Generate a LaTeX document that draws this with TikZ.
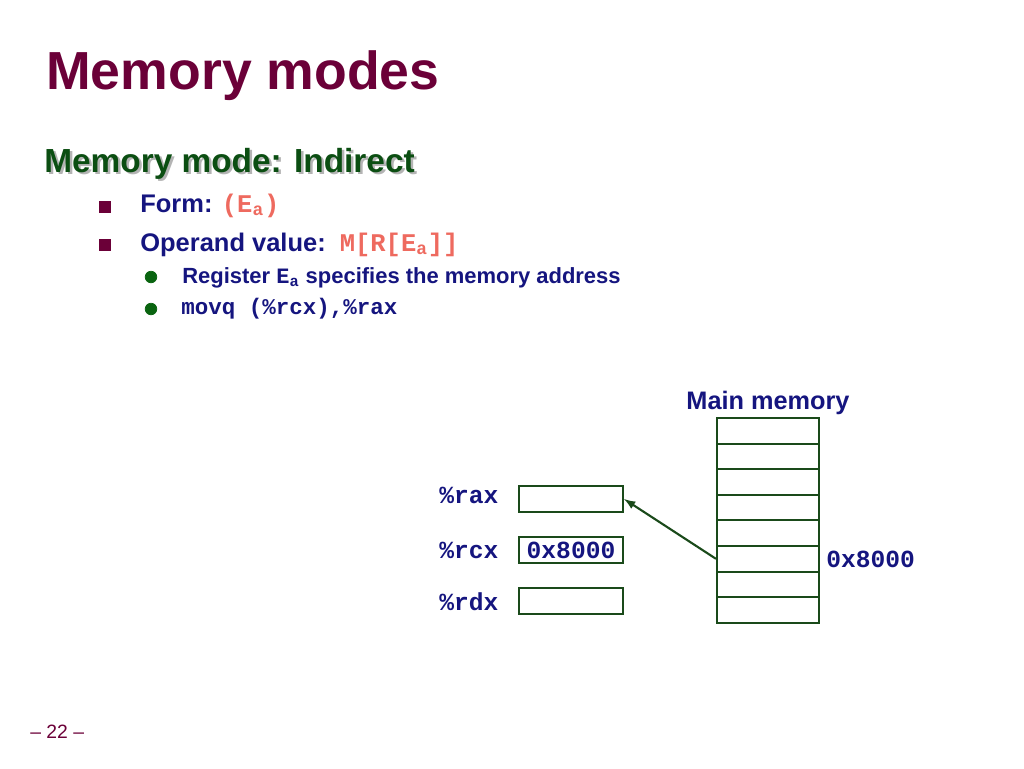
\documentclass[tikz,border=0pt]{standalone}
\usepackage{fontspec}
\setmainfont{Liberation Sans}
\setmonofont{Liberation Mono}
\usetikzlibrary{arrows,plotmarks}
\definecolor{SlideMaroon}{HTML}{6B0038}
\definecolor{SlideGreen}{HTML}{0B4E12}
\definecolor{SlideNavy}{HTML}{15157F}
\definecolor{CodeRed}{HTML}{EE6A5F}
\definecolor{DotGreen}{HTML}{0A6410}
\definecolor{BoxGreen}{HTML}{1A4A1A}
\definecolor{ShadowGray}{HTML}{B4B4B4}

\begin{document}
\begin{tikzpicture}[
    x=0.02cm, y=-0.02cm,
    txt/.style={anchor=base west, inner sep=0pt},
    cell/.style={draw=BoxGreen, line width=1.2pt, minimum width=2.04cm, minimum height=0.512cm, inner sep=0pt},
    regbox/.style={draw=BoxGreen, line width=1.2pt, minimum width=2.08cm, minimum height=0.52cm, inner sep=0pt,
        text=SlideNavy, font=\fontsize{14}{16}\selectfont\ttfamily\bfseries},
    reglabel/.style={txt, text=SlideNavy, font=\fontsize{14}{16}\selectfont\ttfamily\bfseries}
 ]
\useasboundingbox (0,0) rectangle (1024,768);
\def\memX{768}
\def\memTop{418}
\def\cellH{25.6}
\def\regX{571}

% title and bullets
\node[txt, text=SlideMaroon, font=\fontsize{30.5}{34}\selectfont\bfseries] (title) at (46,89) {Memory modes};
\node[txt, text=ShadowGray, font=\fontsize{19}{22}\selectfont\bfseries] (subshadow) at (46.5,174.5) {Memory mode: Indirect};
\node[txt, text=SlideGreen, font=\fontsize{19}{22}\selectfont\bfseries] (subtitle) at (44,172) {Memory mode: Indirect};

\draw [color=SlideMaroon] plot [only marks, mark size=3.1pt, mark=square*] coordinates {(105,207) (105,245)};
\draw [color=DotGreen] plot [only marks, mark size=3.3pt, mark=*] coordinates {(151,277) (151,309)};

\node[txt, text=SlideNavy, font=\fontsize{14.5}{17}\selectfont\bfseries] (form) at (140,212)
    {Form: \textcolor{CodeRed}{\ttfamily (E\textsubscript{a})}};
\node[txt, text=SlideNavy, font=\fontsize{14.5}{17}\selectfont\bfseries] (operand) at (140,251)
    {Operand value:\hspace{8pt}\textcolor{CodeRed}{\ttfamily M[R[E\textsubscript{a}]]}};
\node[txt, text=SlideNavy, font=\fontsize{12.5}{15}\selectfont\bfseries] (register) at (182,283)
    {Register \texttt{E\textsubscript{a}} specifies the memory address};
\node[txt, text=SlideNavy, font=\fontsize{12.8}{15}\selectfont\ttfamily\bfseries] (movq) at (181,314)
    {movq (\%rcx),\%rax};

% main memory
\node[anchor=base, inner sep=0pt, text=SlideNavy, font=\fontsize{14.4}{17}\selectfont\bfseries] (memlabel) at (\memX,409) {Main memory};
\foreach \i in {1,...,8} {
    \node[cell] (m\i) at (\memX,{\memTop+\cellH*(\i-0.5)}) {};
}
\node[reglabel] (addr) at (826,567) {0x8000};

% registers
\node[regbox] (rax) at (\regX,499) {};
\node[regbox] (rcx) at (\regX,550) {0x8000};
\node[regbox] (rdx) at (\regX,601) {};
\node[reglabel] (raxlabel) at (439,503) {\%rax};
\node[reglabel] (rcxlabel) at (439,558) {\%rcx};
\node[reglabel] (rdxlabel) at (439,610) {\%rdx};

\draw[-latex, line width=1.2pt, BoxGreen] (m6.west) -- (rax.east);

\node[txt, text=SlideMaroon, font=\fontsize{11}{13}\selectfont] (page) at (30,738) {-- 22 --};

\end{tikzpicture}
\end{document}
